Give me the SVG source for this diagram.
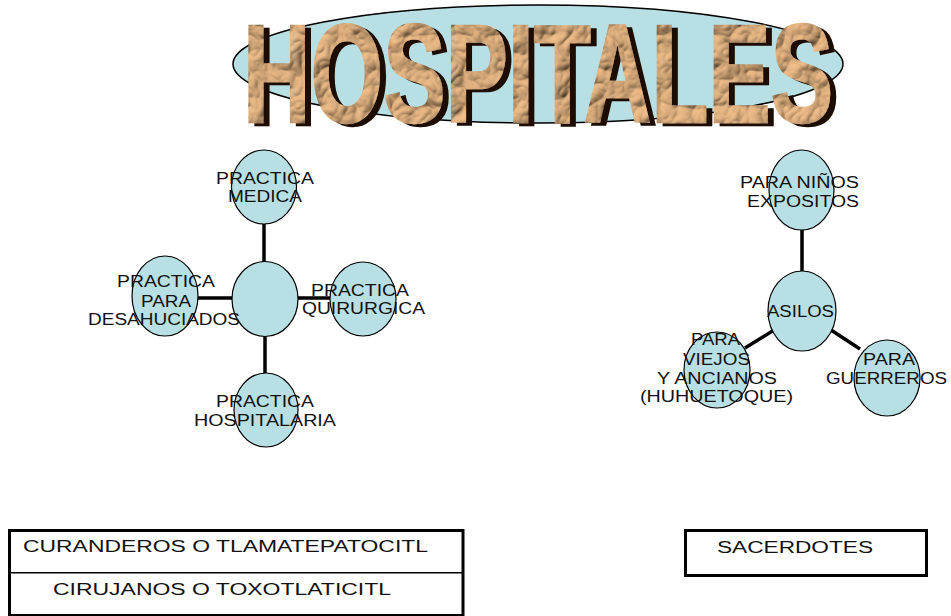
<svg xmlns="http://www.w3.org/2000/svg" width="951" height="616" viewBox="0 0 951 616">
  <style>
    .bubble { fill: #b8dfe3; stroke: #000; stroke-width: 1.2; }
    .label { font-family: "Liberation Sans", Arial, sans-serif; font-size: 16px; fill: #111; }
    .link { stroke: #000; stroke-width: 3.5; fill: none; }
    .frame { fill: #fff; stroke: #000; stroke-width: 3; }
    .title { font-family: "Liberation Sans", Arial, sans-serif; font-weight: bold; font-size: 139px; }
  </style>
  <defs>
    <!-- crumpled paper texture plus a dark extruded shadow for the title letters -->
    <filter id="crumple" filterUnits="userSpaceOnUse" x="200" y="-20" width="680" height="180">
      <feTurbulence type="turbulence" baseFrequency="0.028" numOctaves="3" seed="11" result="noise"/>
      <feDiffuseLighting in="noise" surfaceScale="6" diffuseConstant="1.2" lighting-color="#dcae7e" result="lit">
        <feDistantLight azimuth="235" elevation="48"/>
      </feDiffuseLighting>
      <feComposite in="lit" in2="SourceAlpha" operator="in" result="skin"/>
      <feFlood flood-color="#1c0f04"/>
      <feComposite in2="SourceAlpha" operator="in"/>
      <feOffset dx="6" dy="3" result="shade"/>
      <feMerge>
        <feMergeNode in="shade"/>
        <feMergeNode in="skin"/>
      </feMerge>
    </filter>
  </defs>

  <!-- title -->
  <g id="title">
    <ellipse cx="538" cy="64" rx="305" ry="59" fill="#b8dfe3" stroke="#000" stroke-width="1.5"/>
    <text class="title" x="243" y="122" textLength="590" lengthAdjust="spacingAndGlyphs" fill="#c8a77c" stroke="#c8a77c" stroke-width="2.5" stroke-linejoin="miter" filter="url(#crumple)">HOSPITALES</text>
  </g>

  <!-- connectors -->
  <g id="connectors">
    <line class="link" x1="264" y1="224" x2="264" y2="262"/>
    <line class="link" x1="265" y1="336" x2="265" y2="373"/>
    <line class="link" x1="198" y1="298" x2="232" y2="298"/>
    <line class="link" x1="298" y1="298" x2="330" y2="298"/>
    <line class="link" x1="802" y1="230" x2="802" y2="271"/>
    <line class="link" x1="745" y1="348" x2="774" y2="330"/>
    <line class="link" x1="831" y1="330" x2="860" y2="349"/>
  </g>

  <!-- left cluster -->
  <g id="node-centro">
    <ellipse class="bubble" cx="265" cy="299" rx="33" ry="37.5"/>
  </g>
  <g id="node-medica">
    <ellipse class="bubble" cx="264" cy="187" rx="32.5" ry="37"/>
    <text class="label" x="216" y="183.5" textLength="98" lengthAdjust="spacingAndGlyphs">PRACTICA</text>
    <text class="label" x="228" y="202" textLength="74" lengthAdjust="spacingAndGlyphs">MEDICA</text>
  </g>
  <g id="node-desahuciados">
    <ellipse class="bubble" cx="165" cy="296" rx="33" ry="40"/>
    <text class="label" x="117" y="286.5" textLength="98" lengthAdjust="spacingAndGlyphs">PRACTICA</text>
    <text class="label" x="141" y="306.5" textLength="50" lengthAdjust="spacingAndGlyphs">PARA</text>
    <text class="label" x="88" y="324.5" textLength="152" lengthAdjust="spacingAndGlyphs">DESAHUCIADOS</text>
  </g>
  <g id="node-quirurgica">
    <ellipse class="bubble" cx="363" cy="299" rx="33" ry="37"/>
    <text class="label" x="311" y="295.5" textLength="98" lengthAdjust="spacingAndGlyphs">PRACTICA</text>
    <text class="label" x="302" y="313.5" textLength="123" lengthAdjust="spacingAndGlyphs">QUIRURGICA</text>
  </g>
  <g id="node-hospitalaria">
    <ellipse class="bubble" cx="266" cy="410" rx="32" ry="37"/>
    <text class="label" x="216" y="407" textLength="98" lengthAdjust="spacingAndGlyphs">PRACTICA</text>
    <text class="label" x="194" y="426" textLength="142" lengthAdjust="spacingAndGlyphs">HOSPITALARIA</text>
  </g>

  <!-- right cluster -->
  <g id="node-asilos">
    <ellipse class="bubble" cx="802" cy="311" rx="34" ry="40"/>
    <text class="label" x="767" y="316.5" textLength="67" lengthAdjust="spacingAndGlyphs">ASILOS</text>
  </g>
  <g id="node-ninos">
    <ellipse class="bubble" cx="801.5" cy="190" rx="32.5" ry="40"/>
    <text class="label" x="740" y="188" textLength="119" lengthAdjust="spacingAndGlyphs">PARA NIÑOS</text>
    <text class="label" x="747" y="206.5" textLength="112" lengthAdjust="spacingAndGlyphs">EXPOSITOS</text>
  </g>
  <g id="node-viejos">
    <ellipse class="bubble" cx="717" cy="370" rx="33" ry="38"/>
    <text class="label" x="691" y="345" textLength="49" lengthAdjust="spacingAndGlyphs">PARA</text>
    <text class="label" x="683" y="365" textLength="67" lengthAdjust="spacingAndGlyphs">VIEJOS</text>
    <text class="label" x="657" y="384" textLength="120" lengthAdjust="spacingAndGlyphs">Y ANCIANOS</text>
    <text class="label" x="640" y="402" textLength="153" lengthAdjust="spacingAndGlyphs">(HUHUETOQUE)</text>
  </g>
  <g id="node-guerreros">
    <ellipse class="bubble" cx="887" cy="378" rx="33" ry="38"/>
    <text class="label" x="863" y="365" textLength="52" lengthAdjust="spacingAndGlyphs">PARA</text>
    <text class="label" x="826" y="383.5" textLength="121" lengthAdjust="spacingAndGlyphs">GUERREROS</text>
  </g>

  <!-- practitioner tables -->
  <g id="box-curanderos">
    <rect class="frame" x="9.5" y="530.5" width="453.5" height="85"/>
    <line x1="9.5" y1="572.7" x2="463" y2="572.7" stroke="#000" stroke-width="1.5"/>
    <text class="label" x="23" y="552" textLength="405" lengthAdjust="spacingAndGlyphs">CURANDEROS O TLAMATEPATOCITL</text>
    <text class="label" x="53" y="595" textLength="338" lengthAdjust="spacingAndGlyphs">CIRUJANOS O TOXOTLATICITL</text>
  </g>
  <g id="box-sacerdotes">
    <rect class="frame" x="685.5" y="530.5" width="241" height="45"/>
    <text class="label" x="717" y="553" textLength="156" lengthAdjust="spacingAndGlyphs">SACERDOTES</text>
  </g>
</svg>
